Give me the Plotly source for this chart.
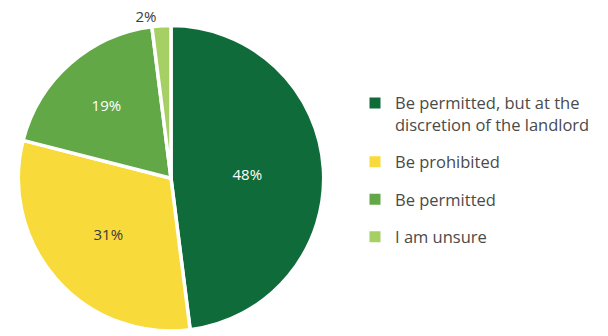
import plotly.graph_objects as go

categories = ["Be permitted, but at the<br>discretion of the landlord", "Be prohibited", "Be permitted", "I am unsure"]
values = [48, 31, 19, 2]
colors = ["#0F6B3A", "#F8DB3A", "#62A846", "#A6D063"]
text_colors = ["#FFFFFF", "#3A3A3A", "#FFFFFF", "#3A3A3A"]
text_positions = ["inside", "inside", "inside", "outside"]

W, H = 608, 336
cx, cy, r = 171, 181, 155

fig = go.Figure()
fig.add_trace(go.Pie(
    labels=categories,
    values=values,
    sort=False,
    direction="clockwise",
    rotation=0,
    marker=dict(colors=colors, line=dict(color="white", width=3.5)),
    texttemplate="%{value}%",
    textposition=text_positions,
    insidetextorientation="horizontal",
    textfont=dict(family="Open Sans", size=15, color=text_colors),
    showlegend=False,
    hoverinfo="label+percent",
    domain=dict(x=[(cx - r) / W, (cx + r) / W], y=[max(0, (H - cy - r) / H), (H - cy + r) / H]),
))

for cat, col in zip(categories, colors):
    fig.add_trace(go.Scatter(
        x=[None], y=[None], mode="markers", name=cat, legendgroup=cat,
        marker=dict(symbol="square", size=11, color=col),
    ))

fig.update_layout(
    width=W, height=H,
    margin=dict(l=0, r=0, t=0, b=0),
    paper_bgcolor="white", plot_bgcolor="white",
    xaxis=dict(visible=False), yaxis=dict(visible=False),
    legend=dict(
        x=355 / W, xanchor="left", y=1 - 87 / H, yanchor="top",
        font=dict(family="Open Sans", size=16.5, color="#4A4A4A"),
        valign="top", tracegroupgap=13, bgcolor="rgba(0,0,0,0)",
    ),
)

fig.write_html("out.html")
